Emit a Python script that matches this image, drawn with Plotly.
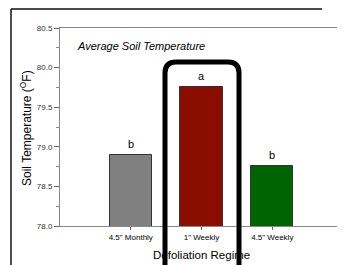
import plotly.graph_objects as go

categories = ['4.5" Monthly', '1" Weekly', '4.5" Weekly']
values = [78.9, 79.75, 78.76]
letters = ["b", "a", "b"]
colors = ["#808080", "#8b0c00", "#006400"]
y_ticks = [78.0, 78.5, 79.0, 79.5, 80.0, 80.5]

D = 8  # page body margin offset
W, H = 345 - D, 265 - D
L, R, T, B = 60 - D, 2, 28 - D, 39
pw, ph = W - L - R, H - T - B

def px(x):
    return (x - D - L) / pw

def py(y):
    return (H - B - (y - D)) / ph

xpos = [0, 1, 2]
fig = go.Figure()
fig.add_trace(go.Bar(
    x=xpos, y=values, width=0.6,
    marker=dict(color=colors, line=dict(color="#333333", width=1)),
    showlegend=False,
))

font = "Liberation Sans, Arial, sans-serif"
for xi, v, t in zip(xpos, values, letters):
    fig.add_annotation(x=xi, y=v, text=t, showarrow=False, yanchor="bottom",
                       yshift=3, font=dict(family=font, size=11, color="black"))

fig.add_annotation(x=px(75), y=py(46), xref="paper", yref="paper", text="<i>Average Soil Temperature</i>",
                   showarrow=False, xanchor="left", yanchor="middle",
                   font=dict(family=font, size=11, color="#000"))
fig.add_annotation(x=px(26), y=py(128), xref="paper", yref="paper", text="Soil Temperature (<sup>O</sup>F)",
                   showarrow=False, textangle=-90, xanchor="center", yanchor="middle",
                   font=dict(family=font, size=12, color="#000"))
fig.add_annotation(x=0.5, y=py(255), xref="paper", yref="paper", text="Defoliation Regime",
                   showarrow=False, xanchor="center", yanchor="middle",
                   font=dict(family=font, size=11.5, color="#000"))

# outer frame
fig.add_shape(type="line", xref="paper", yref="paper", x0=px(11), x1=px(322), y0=py(9), y1=py(9),
              line=dict(color="#111", width=1.5))
fig.add_shape(type="line", xref="paper", yref="paper", x0=px(11), x1=px(11), y0=py(9), y1=py(270),
              line=dict(color="#111", width=1.5))

# rounded highlight box
xl, xr, yt, yb = px(165), px(239), py(62), py(275)
rx, ry = 11 / pw, 11 / ph
path = (f"M {xl},{yb} L {xl},{yt - ry} Q {xl},{yt} {xl + rx},{yt} "
        f"L {xr - rx},{yt} Q {xr},{yt} {xr},{yt - ry} L {xr},{yb}")
fig.add_shape(type="path", xref="paper", yref="paper", path=path,
              line=dict(color="#000", width=5))

fig.update_layout(
    width=W, height=H, margin=dict(l=L, r=R, t=T, b=B),
    plot_bgcolor="white", paper_bgcolor="white",
    bargap=0,
    xaxis=dict(range=[-1, 3], tickmode="array", tickvals=xpos, ticktext=categories,
               ticks="outside", ticklen=3, tickcolor="#666", showgrid=False, zeroline=False,
               showline=True, linecolor="#888", linewidth=1, mirror=True,
               tickfont=dict(family=font, size=8, color="#000")),
    yaxis=dict(range=[78.0, 80.5], tickmode="array", tickvals=y_ticks,
               ticktext=[f"{v:.1f}" for v in y_ticks],
               ticks="outside", ticklen=5, tickcolor="#666", showgrid=False, zeroline=False,
               showline=True, linecolor="#888", linewidth=1, mirror=True,
               minor=dict(dtick=0.25, ticks="outside", ticklen=3, tickcolor="#888", showgrid=False),
               tickfont=dict(family=font, size=8, color="#333")),
)

fig.write_html("out.html")
